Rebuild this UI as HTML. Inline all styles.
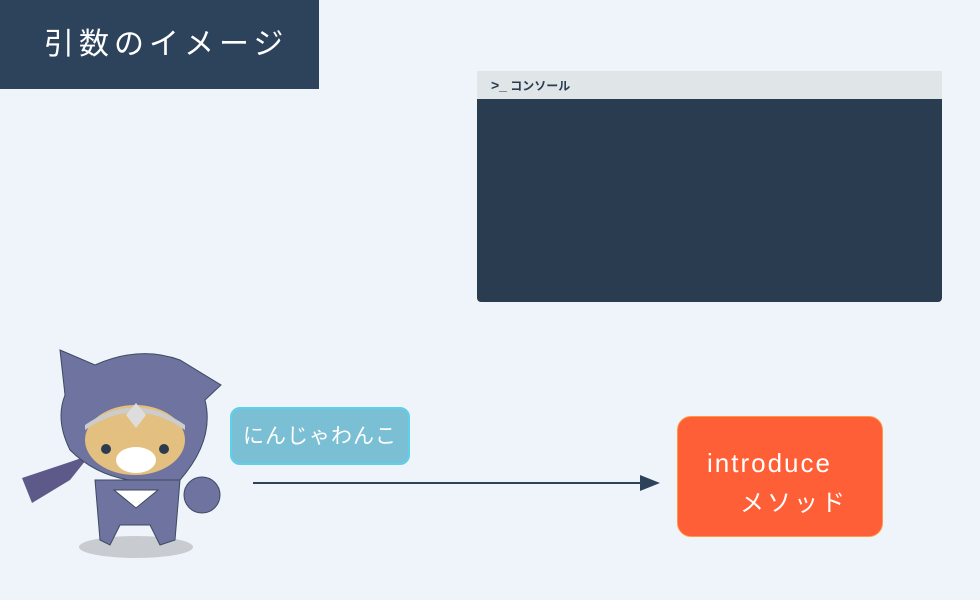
<!DOCTYPE html>
<html><head><meta charset="utf-8"><style>
body{margin:0;width:980px;height:600px;background:#eff4fb;position:relative;overflow:hidden;font-family:"Liberation Sans","Noto Sans CJK JP",sans-serif}
.t{position:absolute;left:0;top:0;width:319px;height:89px;background:#2d435b;color:#fff;font-size:30px;line-height:89px;padding-left:44px;box-sizing:border-box;letter-spacing:5px}
.con{position:absolute;left:477px;top:71px;width:465px;height:231px;background:#2a3d50;border-radius:0 0 4px 4px;overflow:hidden}
.ch{height:28px;background:#e0e5e8;font-size:12px;font-weight:bold;color:#2a3d50;line-height:28px;padding-left:14px}
.b{position:absolute;left:230px;top:407px;width:180px;height:58px;background:#7bbfd4;border:2px solid #5dd0ea;border-radius:10px;color:#fff;font-size:21px;line-height:56px;text-align:center;box-sizing:border-box;letter-spacing:1px}
.o{position:absolute;left:677px;top:416px;width:206px;height:121px;background:#ff5f36;border:1px solid #ff9a40;border-radius:14px;color:#fff;font-size:26px;box-sizing:border-box;letter-spacing:2px}
</style></head><body>
<div class="t">引数のイメージ</div>
<div class="con"><div class="ch"><span style="font-size:14px">&gt;_</span> コンソール</div></div>
<div class="b">にんじゃわんこ</div>
<svg style="position:absolute;left:0;top:0" width="980" height="600">
<line x1="253" y1="483" x2="648" y2="483" stroke="#2d435b" stroke-width="2"/>
<polygon points="660,483 640,475 640,491" fill="#2d435b"/>
<ellipse cx="136" cy="547" rx="57" ry="11" fill="#c8cbd0"/>
<path d="M22,478 L70,462 L90,455 L70,480 L32,503 Z" fill="#5d5a8a"/>
<path d="M60,350 L95,365 Q140,345 180,360 L221,385 L205,400 Q215,440 180,480 Q110,490 70,450 Q55,420 65,395 Z" fill="#6e73a0" stroke="#3e4a60" stroke-width="1"/>
<path d="M95,480 L180,480 L175,540 L160,545 L150,525 L120,525 L110,545 L100,540 Z" fill="#6e73a0" stroke="#3e4a60"/>
<circle cx="202" cy="495" r="18" fill="#6e73a0" stroke="#3e4a60"/>
<ellipse cx="135" cy="440" rx="50" ry="35" fill="#e3c080"/>
<path d="M85,430 Q135,395 185,430 L185,425 Q135,390 85,425Z" fill="#ccc"/>
<polygon points="136,403 126,415 136,428 146,415" fill="#ddd"/>
<ellipse cx="136" cy="460" rx="20" ry="13" fill="#fff"/>
<circle cx="106" cy="449" r="5" fill="#2d3b4f"/><circle cx="164" cy="449" r="5" fill="#2d3b4f"/>
<polygon points="114,490 158,490 136,508" fill="#fff" stroke="#3e4a60"/>
</svg>
<div class="o"><div style="position:absolute;left:29px;top:31px">introduce</div><div style="position:absolute;left:62px;top:66px;font-size:24px;letter-spacing:3px">メソッド</div></div>
</body></html>
